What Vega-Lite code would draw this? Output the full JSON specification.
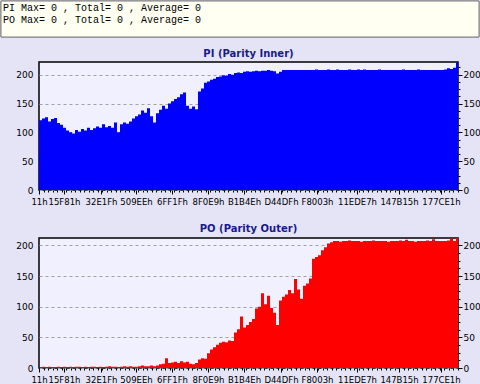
{
  "$schema": "https://vega.github.io/schema/vega-lite/v6.json",
  "background": "#E4E4F6",
  "padding": 0,
  "spacing": 10,
  "config": {
    "font": "DejaVu Sans",
    "axis": {"labelFont": "DejaVu Sans", "labelColor": "#000000", "tickColor": "#000000", "domain": false, "labelFontSize": 8.5}
  },
  "datasets": {
    "parity": [
      {"i":0,"pi":121,"po":1},{"i":3,"pi":124,"po":2},{"i":6,"pi":126,"po":1},{"i":9,"pi":119,"po":2},{"i":12,"pi":123,"po":1},{"i":15,"pi":125,"po":1},{"i":18,"pi":116,"po":2},{"i":21,"pi":113,"po":1},{"i":24,"pi":108,"po":2},{"i":27,"pi":103,"po":1},
      {"i":30,"pi":100,"po":2},{"i":33,"pi":98,"po":1},{"i":36,"pi":104,"po":2},{"i":39,"pi":101,"po":2},{"i":42,"pi":106,"po":1},{"i":45,"pi":103,"po":2},{"i":48,"pi":108,"po":1},{"i":51,"pi":104,"po":2},{"i":54,"pi":107,"po":2},{"i":57,"pi":110,"po":1},
      {"i":60,"pi":108,"po":2},{"i":63,"pi":114,"po":1},{"i":66,"pi":109,"po":2},{"i":69,"pi":111,"po":3},{"i":72,"pi":108,"po":2},{"i":75,"pi":117,"po":2},{"i":78,"pi":100,"po":1},{"i":81,"pi":114,"po":2},{"i":84,"pi":117,"po":3},{"i":87,"pi":115,"po":2},
      {"i":90,"pi":119,"po":3},{"i":93,"pi":124,"po":2},{"i":96,"pi":128,"po":2},{"i":99,"pi":131,"po":3},{"i":102,"pi":138,"po":4},{"i":105,"pi":134,"po":3},{"i":108,"pi":142,"po":3},{"i":111,"pi":128,"po":4},{"i":114,"pi":117,"po":3},{"i":117,"pi":133,"po":4},
      {"i":120,"pi":139,"po":6},{"i":123,"pi":146,"po":7},{"i":126,"pi":141,"po":16},{"i":129,"pi":150,"po":8},{"i":132,"pi":154,"po":9},{"i":135,"pi":158,"po":10},{"i":138,"pi":161,"po":8},{"i":141,"pi":166,"po":11},{"i":144,"pi":169,"po":9},{"i":147,"pi":146,"po":10},
      {"i":150,"pi":141,"po":7},{"i":153,"pi":145,"po":6},{"i":156,"pi":140,"po":8},{"i":159,"pi":171,"po":14},{"i":162,"pi":176,"po":16},{"i":165,"pi":186,"po":15},{"i":168,"pi":188,"po":24},{"i":171,"pi":191,"po":30},{"i":174,"pi":193,"po":34},{"i":177,"pi":196,"po":38},
      {"i":180,"pi":197,"po":41},{"i":183,"pi":199,"po":43},{"i":186,"pi":198,"po":42},{"i":189,"pi":201,"po":45},{"i":192,"pi":200,"po":44},{"i":195,"pi":203,"po":58},{"i":198,"pi":204,"po":63},{"i":201,"pi":203,"po":84},{"i":204,"pi":205,"po":66},{"i":207,"pi":206,"po":70},
      {"i":210,"pi":205,"po":75},{"i":213,"pi":206,"po":80},{"i":216,"pi":207,"po":97},{"i":219,"pi":206,"po":100},{"i":222,"pi":207,"po":122},{"i":225,"pi":207,"po":104},{"i":228,"pi":208,"po":118},{"i":231,"pi":207,"po":98},{"i":234,"pi":206,"po":90},{"i":237,"pi":202,"po":70},
      {"i":240,"pi":205,"po":110},{"i":243,"pi":208,"po":116},{"i":246,"pi":208,"po":120},{"i":249,"pi":208,"po":127},{"i":252,"pi":208,"po":122},{"i":255,"pi":208,"po":145},{"i":258,"pi":208,"po":128},{"i":261,"pi":208,"po":113},{"i":264,"pi":208,"po":134},{"i":267,"pi":208,"po":138},
      {"i":270,"pi":208,"po":146},{"i":273,"pi":208,"po":178},{"i":276,"pi":209,"po":181},{"i":279,"pi":208,"po":184},{"i":282,"pi":208,"po":192},{"i":285,"pi":208,"po":197},{"i":288,"pi":209,"po":203},{"i":291,"pi":208,"po":205},{"i":294,"pi":208,"po":207},{"i":297,"pi":209,"po":207},
      {"i":300,"pi":208,"po":206},{"i":303,"pi":208,"po":207},{"i":306,"pi":208,"po":207},{"i":309,"pi":209,"po":208},{"i":312,"pi":208,"po":207},{"i":315,"pi":208,"po":207},{"i":318,"pi":209,"po":207},{"i":321,"pi":208,"po":206},{"i":324,"pi":209,"po":207},{"i":327,"pi":208,"po":207},
      {"i":330,"pi":208,"po":207},{"i":333,"pi":208,"po":208},{"i":336,"pi":208,"po":207},{"i":339,"pi":209,"po":207},{"i":342,"pi":208,"po":207},{"i":345,"pi":208,"po":207},{"i":348,"pi":208,"po":206},{"i":351,"pi":208,"po":207},{"i":354,"pi":208,"po":207},{"i":357,"pi":208,"po":207},
      {"i":360,"pi":208,"po":208},{"i":363,"pi":209,"po":207},{"i":366,"pi":208,"po":209},{"i":369,"pi":208,"po":207},{"i":372,"pi":208,"po":207},{"i":375,"pi":208,"po":206},{"i":378,"pi":209,"po":207},{"i":381,"pi":208,"po":207},{"i":384,"pi":208,"po":207},{"i":387,"pi":208,"po":208},
      {"i":390,"pi":208,"po":207},{"i":393,"pi":208,"po":210},{"i":396,"pi":208,"po":207},{"i":399,"pi":208,"po":207},{"i":402,"pi":208,"po":207},{"i":405,"pi":209,"po":207},{"i":408,"pi":211,"po":208},{"i":411,"pi":210,"po":211},{"i":414,"pi":212,"po":207},{"i":417,"pi":221,"po":212},
      {"i":419,"pi":221,"po":212}
    ],
    "header": [
      {"line": 1, "text": "PI Max= 0 , Total= 0 , Average= 0"},
      {"line": 2, "text": "PO Max= 0 , Total= 0 , Average= 0"}
    ]
  },
  "vconcat": [
    {
      "width": 419,
      "height": 36,
      "data": {"name": "header"},
      "view": {"fill": null, "stroke": null},
      "layer": [
        {
          "mark": {"type": "rect", "fill": "#FFFFF2", "stroke": "#7F7F7F", "strokeWidth": 1},
          "encoding": {
            "x": {"datum": -38, "type": "quantitative", "scale": {"domain": [0, 419], "nice": false, "zero": false}, "axis": null},
            "x2": {"datum": 440}
          }
        },
        {
          "mark": {"type": "text", "align": "left", "baseline": "middle", "font": "Liberation Mono", "fontSize": 10, "color": "#000000"},
          "encoding": {
            "x": {"datum": -36, "type": "quantitative", "axis": null},
            "y": {"field": "line", "type": "quantitative", "scale": {"domain": [0.42, 3.42], "reverse": true}, "axis": null},
            "text": {"field": "text"}
          }
        }
      ]
    },
    {
      "width": 419,
      "height": 128,
      "data": {"name": "parity"},
      "title": {"text": "PI (Parity Inner)", "color": "#1A1A8C", "font": "DejaVu Sans", "fontSize": 10, "fontWeight": "bold", "offset": 1},
      "view": {"fill": "#F0F0FE", "stroke": "#000000", "strokeWidth": 1.5},
      "layer": [
        {
          "mark": {"type": "area", "interpolate": "step-after", "color": "#0000FF"},
          "encoding": {
            "x": {"field": "i", "type": "quantitative", "scale": {"domain": [0, 419], "nice": false, "zero": false},
              "axis": {"orient": "bottom", "title": null, "values": [0,25,62,97,133,169,205,242,278,318,360,402], "labelExpr": "['11h','15F81h','32E1Fh','509EEh','6FF1Fh','8F0E9h','B1B4Eh','D44DFh','F8003h','11EDE7h','147B15h','177CE1h'][indexof([0,25,62,97,133,169,205,242,278,318,360,402], datum.value)]", "tickSize": 4, "labelPadding": 3, "labelOverlap": false, "labelFlush": false, "grid": false, "minExtent": 22}},
            "y": {"field": "pi", "type": "quantitative", "scale": {"domain": [0, 222], "nice": false},
              "axis": {"orient": "left", "title": null, "values": [0,50,100,150,200], "tickSize": 0, "labelPadding": 6, "labelFontSize": 9, "grid": true, "gridColor": "#A0A0A0", "gridDash": [3,3], "gridWidth": 1, "minExtent": 38}}
          }
        },
        {
          "mark": {"type": "point", "opacity": 0},
          "encoding": {
            "x": {"field": "i", "type": "quantitative", "axis": {"orient": "bottom", "title": null, "labels": false, "grid": false, "tickSize": 2, "values": [0,4.5,9,13.5,18,22.5,27,31.5,36,40.5,45,49.5,54,58.5,63,67.5,72,76.5,81,85.5,90,94.5,99,103.5,108,112.5,117,121.5,126,130.5,135,139.5,144,148.5,153,157.5,162,166.5,171,175.5,180,184.5,189,193.5,198,202.5,207,211.5,216,220.5,225,229.5,234,238.5,243,247.5,252,256.5,261,265.5,270,274.5,279,283.5,288,292.5,297,301.5,306,310.5,315,319.5,324,328.5,333,337.5,342,346.5,351,355.5,360,364.5,369,373.5,378,382.5,387,391.5,396,400.5,405,409.5,414,418.5]}},
            "y": {"field": "pi", "type": "quantitative", "axis": {"orient": "right", "title": null, "values": [0,50,100,150,200], "tickSize": 4, "labelPadding": 1, "labelFontSize": 9, "grid": false}}
          }
        },
        {
          "mark": {"type": "point", "opacity": 0},
          "encoding": {
            "x": {"field": "i", "type": "quantitative", "axis": null},
            "y": {"field": "pi", "type": "quantitative", "axis": {"orient": "right", "title": null, "labels": false, "grid": false, "tickSize": 2, "values": [12.5,25,37.5,62.5,75,87.5,112.5,125,137.5,162.5,175,187.5,212.5]}}
          }
        }
      ],
      "resolve": {"axis": {"x": "independent", "y": "independent"}}
    },
    {
      "width": 419,
      "height": 130,
      "data": {"name": "parity"},
      "title": {"text": "PO (Parity Outer)", "color": "#1A1A8C", "font": "DejaVu Sans", "fontSize": 10, "fontWeight": "bold", "offset": 1},
      "view": {"fill": "#F0F0FE", "stroke": "#000000", "strokeWidth": 1.5},
      "layer": [
        {
          "mark": {"type": "area", "interpolate": "step-after", "color": "#FF0000"},
          "encoding": {
            "x": {"field": "i", "type": "quantitative", "scale": {"domain": [0, 419], "nice": false, "zero": false},
              "axis": {"orient": "bottom", "title": null, "values": [0,25,62,97,133,169,205,242,278,318,360,402], "labelExpr": "['11h','15F81h','32E1Fh','509EEh','6FF1Fh','8F0E9h','B1B4Eh','D44DFh','F8003h','11EDE7h','147B15h','177CE1h'][indexof([0,25,62,97,133,169,205,242,278,318,360,402], datum.value)]", "tickSize": 4, "labelPadding": 3, "labelOverlap": false, "labelFlush": false, "grid": false}},
            "y": {"field": "po", "type": "quantitative", "scale": {"domain": [0, 212], "nice": false},
              "axis": {"orient": "left", "title": null, "values": [0,50,100,150,200], "tickSize": 0, "labelPadding": 6, "labelFontSize": 9, "grid": true, "gridColor": "#A0A0A0", "gridDash": [3,3], "gridWidth": 1, "minExtent": 38}}
          }
        },
        {
          "mark": {"type": "point", "opacity": 0},
          "encoding": {
            "x": {"field": "i", "type": "quantitative", "axis": {"orient": "bottom", "title": null, "labels": false, "grid": false, "tickSize": 2, "values": [0,4.5,9,13.5,18,22.5,27,31.5,36,40.5,45,49.5,54,58.5,63,67.5,72,76.5,81,85.5,90,94.5,99,103.5,108,112.5,117,121.5,126,130.5,135,139.5,144,148.5,153,157.5,162,166.5,171,175.5,180,184.5,189,193.5,198,202.5,207,211.5,216,220.5,225,229.5,234,238.5,243,247.5,252,256.5,261,265.5,270,274.5,279,283.5,288,292.5,297,301.5,306,310.5,315,319.5,324,328.5,333,337.5,342,346.5,351,355.5,360,364.5,369,373.5,378,382.5,387,391.5,396,400.5,405,409.5,414,418.5]}},
            "y": {"field": "po", "type": "quantitative", "axis": {"orient": "right", "title": null, "values": [0,50,100,150,200], "tickSize": 4, "labelPadding": 1, "labelFontSize": 9, "grid": false}}
          }
        },
        {
          "mark": {"type": "point", "opacity": 0},
          "encoding": {
            "x": {"field": "i", "type": "quantitative", "axis": null},
            "y": {"field": "po", "type": "quantitative", "axis": {"orient": "right", "title": null, "labels": false, "grid": false, "tickSize": 2, "values": [12.5,25,37.5,62.5,75,87.5,112.5,125,137.5,162.5,175,187.5]}}
          }
        }
      ],
      "resolve": {"axis": {"x": "independent", "y": "independent"}}
    }
  ]
}
